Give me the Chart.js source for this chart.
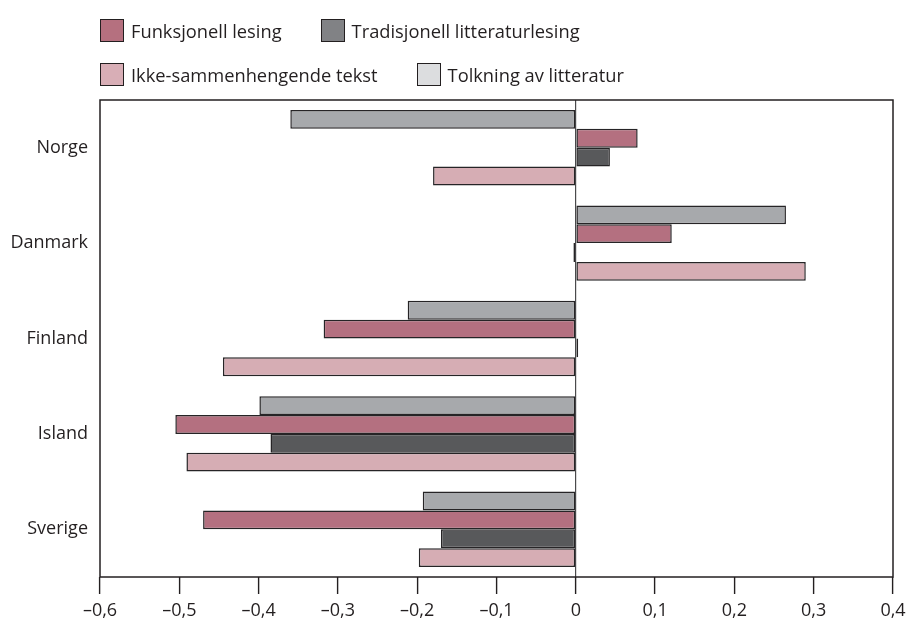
<!DOCTYPE html>
<html>
<head>
<meta charset="utf-8">
<script src="https://cdn.jsdelivr.net/npm/chart.js@4.4.1/dist/chart.umd.min.js"></script>
<style>
  body { margin: 0; background: #fff; }
  #wrap { position: relative; width: 907px; height: 619px; }
  #legend { position: absolute; left: 100px; top: 18px; font-family: 'Open Sans', sans-serif; font-size: 18.3px; color: #231f20; }
  .row { display: flex; height: 24px; margin-bottom: 20px; }
  .item { display: flex; align-items: center; margin-right: 39px; }
  .box { width: 22px; height: 21px; border: 1.5px solid #231f20; margin-right: 7px; }
</style>
</head>
<body>
<div id="wrap">
  <div id="legend"></div>
  <canvas id="barchart" width="907" height="619"></canvas>
</div>
<script>
(function () {
 "use strict";

	/*----------------------------------------*/
	/*  data
	/*----------------------------------------*/
	var countries = ["Norge", "Danmark", "Finland", "Island", "Sverige"];
	var tolkning = [-0.360, 0.265, -0.212, -0.399, -0.193];
	var funksjonell = [0.078, 0.121, -0.318, -0.505, -0.470];
	var tradisjonell = [0.043, -0.003, 0.003, -0.385, -0.170];
	var ikkeSammenhengende = [-0.180, 0.290, -0.445, -0.491, -0.198];
	var xTicks = [-0.6, -0.5, -0.4, -0.3, -0.2, -0.1, 0, 0.1, 0.2, 0.3, 0.4];

	var series = [
		{ label: "Tolkning av litteratur", data: tolkning, color: "#a7a9ac", key: "#dcdddf" },
		{ label: "Funksjonell lesing", data: funksjonell, color: "#b47080", key: "#b5707f" },
		{ label: "Tradisjonell litteraturlesing", data: tradisjonell, color: "#58595b", key: "#818285" },
		{ label: "Ikke-sammenhengende tekst", data: ikkeSammenhengende, color: "#d6adb4", key: "#d8aeb6" }
	];

	/*----------------------------------------*/
	/*  legend (two rows)
	/*----------------------------------------*/
	var legendRows = [[1, 2], [3, 0]];
	var legend = document.getElementById("legend");
	legendRows.forEach(function (row) {
		var r = document.createElement("div");
		r.className = "row";
		row.forEach(function (i) {
			var it = document.createElement("div");
			it.className = "item";
			var b = document.createElement("span");
			b.className = "box";
			b.style.background = series[i].key;
			var t = document.createElement("span");
			t.textContent = series[i].label;
			it.appendChild(b);
			it.appendChild(t);
			r.appendChild(it);
		});
		legend.appendChild(r);
	});

	function fmt(v) {
		var r = Math.round(v * 10) / 10;
		if (r === 0) return "0";
		return (r < 0 ? "\u2013" : "") + Math.abs(r).toFixed(1).replace(".", ",");
	}

	// frame round the plot area
	var frame = {
		id: "frame",
		afterDatasetsDraw: function (chart) {
			var a = chart.chartArea, c = chart.ctx;
			c.save();
			c.strokeStyle = "#231f20";
			c.lineWidth = 1.5;
			c.strokeRect(a.left, a.top, a.right - a.left, a.bottom - a.top);
			c.restore();
		}
	};

	Chart.defaults.font.family = "'Open Sans', sans-serif";
	Chart.defaults.font.size = 18;
	Chart.defaults.color = "#231f20";

	/*----------------------------------------*/
	/*  bar chart
	/*----------------------------------------*/
	var ctx = document.getElementById("barchart");
	var barchart = new Chart(ctx, {
		type: 'bar',
		data: {
			labels: countries,
			datasets: series.map(function (s) {
				return {
					label: s.label,
					data: s.data,
					backgroundColor: s.color,
					borderColor: "#262426",
					borderWidth: 1.5,
					borderSkipped: false,
					categoryPercentage: 0.79,
					barPercentage: 1
				};
			})
		},
		options: {
			indexAxis: 'y',
			responsive: false,
			animation: false,
			layout: { autoPadding: false, padding: { top: 100, right: 14, left: 0, bottom: 0 } },
			plugins: {
				legend: { display: false },
				tooltip: { enabled: false }
			},
			scales: {
				x: {
					min: -0.6,
					max: 0.4,
					afterBuildTicks: function (scale) {
						scale.ticks = xTicks.map(function (v) { return { value: v }; });
					},
					afterFit: function (scale) {
						scale.height = 42;
						scale.paddingLeft = 0;
						scale.paddingRight = 0;
					},
					border: { display: false },
					grid: {
						color: function (c) { return c.tick && c.tick.value === 0 ? "#4a4a4c" : "rgba(0,0,0,0)"; },
						lineWidth: 1.2,
						tickColor: "#231f20",
						tickLength: 17,
						tickWidth: 1.4
					},
					ticks: {
						padding: 6,
						maxRotation: 0,
						autoSkip: false,
						callback: function (v) { return fmt(v); }
					}
				},
				y: {
					afterFit: function (scale) { scale.width = 100; },
					border: { display: false },
					grid: { display: false, drawTicks: false },
					ticks: { padding: 12 }
				}
			}
		},
		plugins: [frame]
	});

})();
</script>
</body>
</html>
